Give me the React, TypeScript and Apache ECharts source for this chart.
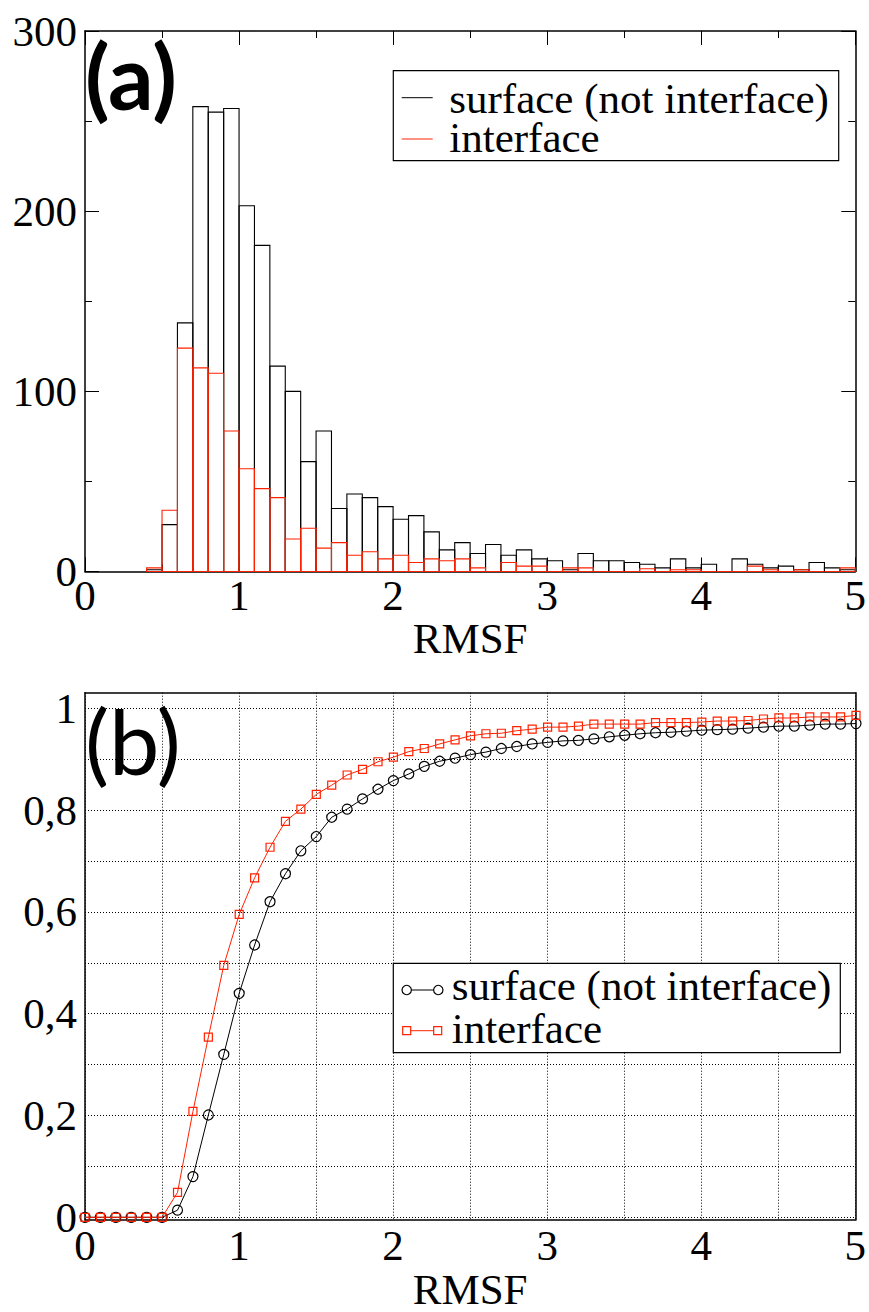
import React, { useEffect, useRef } from "react";
import * as echarts from "echarts";

// ---- data ----
const rmsfEdges = [
  0.4, 0.5, 0.6, 0.7, 0.8, 0.9, 1.0, 1.1, 1.2, 1.3, 1.4, 1.5, 1.6, 1.7, 1.8, 1.9,
  2.0, 2.1, 2.2, 2.3, 2.4, 2.5, 2.6, 2.7, 2.8, 2.9, 3.0, 3.1, 3.2, 3.3, 3.4, 3.5,
  3.6, 3.7, 3.8, 3.9, 4.0, 4.1, 4.2, 4.3, 4.4, 4.5, 4.6, 4.7, 4.8, 4.9, 5.0,
];
const surfaceCounts = [
  1, 26, 138, 258, 255, 257, 203, 181, 114, 100, 61, 78, 35, 43, 41, 36,
  29, 31, 22, 12, 16, 10, 15, 9, 12, 7, 6, 1, 10, 6, 6, 5,
  4, 2, 7, 2, 4, 0, 7, 4, 2, 3, 1, 5, 2, 1,
];
const interfaceCounts = [
  2, 34, 124, 113, 110, 78, 57, 46, 41, 18, 24, 13, 16, 9, 11, 7,
  9, 5, 7, 6, 7, 2, 0, 5, 3, 3, 0, 2, 2, 0, 0, 0,
  1.5, 0, 1, 1, 0, 0, 0, 3, 1, 0, 1, 0, 0, 2,
];

const rmsfPoints = [
  0, 0.1, 0.2, 0.3, 0.4, 0.5, 0.6, 0.7, 0.8, 0.9, 1.0, 1.1, 1.2, 1.3, 1.4, 1.5, 1.6,
  1.7, 1.8, 1.9, 2.0, 2.1, 2.2, 2.3, 2.4, 2.5, 2.6, 2.7, 2.8, 2.9, 3.0, 3.1, 3.2, 3.3,
  3.4, 3.5, 3.6, 3.7, 3.8, 3.9, 4.0, 4.1, 4.2, 4.3, 4.4, 4.5, 4.6, 4.7, 4.8, 4.9, 5.0,
];
const surfaceCdf = [
  0, 0, 0, 0, 0, 0, 0.014, 0.08, 0.201, 0.32, 0.44, 0.535, 0.62, 0.675, 0.72, 0.748, 0.786,
  0.802, 0.822, 0.841, 0.858, 0.871, 0.886, 0.896, 0.902, 0.909, 0.914, 0.921, 0.925, 0.93, 0.933, 0.936, 0.937, 0.94,
  0.944, 0.947, 0.95, 0.952, 0.953, 0.955, 0.957, 0.958, 0.959, 0.961, 0.963, 0.965, 0.965, 0.967, 0.969, 0.969, 0.97,
];
const interfaceCdf = [
  0, 0, 0, 0, 0, 0, 0.049, 0.208, 0.354, 0.495, 0.595, 0.667, 0.727, 0.778, 0.802, 0.831, 0.849,
  0.869, 0.88, 0.895, 0.904, 0.915, 0.921, 0.93, 0.938, 0.946, 0.95, 0.951, 0.956, 0.959, 0.963, 0.963, 0.965, 0.969,
  0.969, 0.969, 0.969, 0.972, 0.972, 0.972, 0.973, 0.975, 0.975, 0.976, 0.979, 0.981, 0.981, 0.983, 0.983, 0.983, 0.986,
];

const seriesNames = ["surface (not interface)", "interface"];
const xLabel = "RMSF";

// ---- styles ----
const FONT = "Liberation Serif";
const LABEL_FONT = "Lato";
const RED = "#ff2200";
const BLACK = "#000000";
const FS = 43;

const histRender = (color: string) => (params: any, api: any) => {
  const x0 = api.value(0);
  const x1 = api.value(1);
  const v = api.value(2);
  const p0 = api.coord([x0, 0]);
  const p1 = api.coord([x1, v]);
  return {
    type: "rect",
    shape: { x: p0[0], y: p1[1], width: p1[0] - p0[0], height: p0[1] - p1[1] },
    style: { fill: "none", stroke: color, lineWidth: 1.1 },
  };
};

const axisLineStyle = { show: true, onZero: false, lineStyle: { color: BLACK, width: 1.5 } };
const dotted = { show: true, lineStyle: { color: BLACK, width: 1, type: [1, 2] as any } };
const labelStyle = { fontSize: FS, color: BLACK, fontFamily: FONT };

export default function App() {
  const ref = useRef<HTMLDivElement>(null);
  useEffect(() => {
    if (!ref.current) return;
    const chart = echarts.init(ref.current, undefined, { renderer: "svg" });

    const histData = (counts: number[]) =>
      counts.map((c, i) => [rmsfEdges[i], rmsfEdges[i + 1], c]);

    const legendText = (text: string, x: number, y: number) => ({
      type: "text", x, y, z: 101,
      style: { text, fontSize: FS, lineHeight: 34, fontFamily: FONT, fill: BLACK, verticalAlign: "middle" },
    });

    const option: any = {
      animation: false,
      backgroundColor: "#ffffff",
      textStyle: { fontFamily: FONT },
      grid: [
        { left: 85, top: 31, width: 771, height: 540.5 },
        { left: 85, top: 692.7, width: 771, height: 539.6 },
        { left: 85, top: 708.3, width: 771, height: 509 },
      ],
      xAxis: [
        {
          gridIndex: 0, type: "value", min: 0, max: 5, interval: 1, position: "bottom",
          axisLine: axisLineStyle,
          axisTick: { show: true, inside: true, length: 14, lineStyle: { color: BLACK, width: 1 } },
          minorTick: { show: true, splitNumber: 2, length: 7, lineStyle: { color: BLACK, width: 1 } },
          axisLabel: { ...labelStyle, margin: 2 },
          splitLine: { show: false },
          name: xLabel, nameLocation: "middle", nameGap: 42,
          nameTextStyle: { ...labelStyle },
        },
        {
          gridIndex: 0, type: "value", min: 0, max: 5, interval: 1, position: "top",
          axisLine: axisLineStyle,
          axisTick: { show: true, inside: true, length: 14, lineStyle: { color: BLACK, width: 1 } },
          minorTick: { show: true, splitNumber: 2, length: 7, lineStyle: { color: BLACK, width: 1 } },
          axisLabel: { show: false },
          splitLine: { show: false },
        },
        {
          gridIndex: 1, type: "value", min: 0, max: 5, interval: 1, position: "bottom",
          axisLine: axisLineStyle,
          axisTick: { show: false },
          minorTick: { show: false, splitNumber: 2 },
          axisLabel: { ...labelStyle, margin: 4 },
          splitLine: dotted,
          minorSplitLine: dotted,
          name: xLabel, nameLocation: "middle", nameGap: 43,
          nameTextStyle: { ...labelStyle },
        },
        {
          gridIndex: 1, type: "value", min: 0, max: 5, position: "top",
          axisLine: axisLineStyle, axisTick: { show: false }, axisLabel: { show: false },
          splitLine: { show: false },
        },
        { gridIndex: 2, type: "value", min: 0, max: 5, show: false, splitLine: { show: false } },
      ],
      yAxis: [
        {
          gridIndex: 0, type: "value", min: 0, max: 300, interval: 100, position: "left",
          axisLine: axisLineStyle,
          axisTick: { show: true, inside: true, length: 14, lineStyle: { color: BLACK, width: 1 } },
          minorTick: { show: true, splitNumber: 2, length: 7, lineStyle: { color: BLACK, width: 1 } },
          axisLabel: { ...labelStyle, margin: 8 },
          splitLine: { show: false },
        },
        {
          gridIndex: 0, type: "value", min: 0, max: 300, interval: 100, position: "right",
          axisLine: axisLineStyle,
          axisTick: { show: true, inside: true, length: 14, lineStyle: { color: BLACK, width: 1 } },
          minorTick: { show: true, splitNumber: 2, length: 7, lineStyle: { color: BLACK, width: 1 } },
          axisLabel: { show: false },
          splitLine: { show: false },
        },
        {
          gridIndex: 1, type: "value", min: -0.03, max: 1.03, position: "left",
          axisLine: axisLineStyle, axisTick: { show: false }, axisLabel: { show: false },
          splitLine: { show: false },
        },
        {
          gridIndex: 1, type: "value", min: -0.03, max: 1.03, position: "right",
          axisLine: axisLineStyle, axisTick: { show: false }, axisLabel: { show: false },
          splitLine: { show: false },
        },
        {
          gridIndex: 2, type: "value", min: 0, max: 1, interval: 0.2, position: "left",
          axisLine: { show: false }, axisTick: { show: false },
          minorTick: { show: false, splitNumber: 2 },
          axisLabel: {
            ...labelStyle, margin: 8,
            formatter: (v: number) => String(Math.round(v * 10) / 10).replace(".", ","),
          },
          splitLine: dotted,
          minorSplitLine: dotted,
        },
      ],
      series: [
        {
          type: "custom", name: seriesNames[0], xAxisIndex: 0, yAxisIndex: 0,
          data: histData(surfaceCounts), renderItem: histRender(BLACK),
          encode: { x: [0, 1], y: 2 }, itemStyle: { color: BLACK }, z: 2,
        },
        {
          type: "custom", name: seriesNames[1], xAxisIndex: 0, yAxisIndex: 0,
          data: histData(interfaceCounts), renderItem: histRender(RED),
          encode: { x: [0, 1], y: 2 }, itemStyle: { color: RED }, z: 3,
        },
        {
          type: "line", name: seriesNames[0], xAxisIndex: 4, yAxisIndex: 4,
          data: rmsfPoints.map((x, i) => [x, surfaceCdf[i]]),
          symbol: "circle", symbolSize: 10, clip: false,
          itemStyle: { color: "rgba(0,0,0,0)", borderColor: BLACK, borderWidth: 1.2 },
          lineStyle: { color: BLACK, width: 1 }, z: 3,
        },
        {
          type: "line", name: seriesNames[1], xAxisIndex: 4, yAxisIndex: 4,
          data: rmsfPoints.map((x, i) => [x, interfaceCdf[i]]),
          symbol: "rect", symbolSize: 8, clip: false,
          itemStyle: { color: "rgba(0,0,0,0)", borderColor: RED, borderWidth: 1.2 },
          lineStyle: { color: RED, width: 1 }, z: 4,
        },
      ],
      graphic: {
        elements: [
          // panel labels
          {
            type: "text", x: 85, y: 75, z: 100,
            style: { text: "(a)", fontSize: 90, lineHeight: 90, fontFamily: LABEL_FONT, fontWeight: "bold", fill: BLACK, verticalAlign: "middle" },
          },
          {
            type: "text", x: 85, y: 740, z: 100,
            style: { text: "(b)", fontSize: 90, lineHeight: 90, fontFamily: LABEL_FONT, fill: BLACK, verticalAlign: "middle" },
          },
          // legend (a)
          {
            type: "rect", z: 100, shape: { x: 393.3, y: 70.7, width: 445.4, height: 90 },
            style: { fill: "#fff", stroke: BLACK, lineWidth: 1.2 },
          },
          { type: "line", z: 101, shape: { x1: 401.7, y1: 97.7, x2: 432.7, y2: 97.7 }, style: { stroke: BLACK, lineWidth: 1 } },
          { type: "line", z: 101, shape: { x1: 401.7, y1: 139, x2: 432.7, y2: 139 }, style: { stroke: RED, lineWidth: 1 } },
          legendText(seriesNames[0], 449.3, 98.8),
          legendText(seriesNames[1], 449.3, 137.2),
          // legend (b)
          {
            type: "rect", z: 100, shape: { x: 393.3, y: 963.3, width: 447, height: 89.4 },
            style: { fill: "#fff", stroke: BLACK, lineWidth: 1.2 },
          },
          { type: "line", z: 101, shape: { x1: 406.7, y1: 990, x2: 438.3, y2: 990 }, style: { stroke: BLACK, lineWidth: 1 } },
          { type: "circle", z: 102, shape: { cx: 406.7, cy: 990, r: 4.7 }, style: { fill: "#fff", stroke: BLACK, lineWidth: 1.2 } },
          { type: "circle", z: 102, shape: { cx: 438.3, cy: 990, r: 4.7 }, style: { fill: "#fff", stroke: BLACK, lineWidth: 1.2 } },
          { type: "line", z: 101, shape: { x1: 406.7, y1: 1030.7, x2: 437.7, y2: 1030.7 }, style: { stroke: RED, lineWidth: 1 } },
          { type: "rect", z: 102, shape: { x: 402.7, y: 1026.7, width: 8, height: 8 }, style: { fill: "#fff", stroke: RED, lineWidth: 1.2 } },
          { type: "rect", z: 102, shape: { x: 433.7, y: 1026.7, width: 8, height: 8 }, style: { fill: "#fff", stroke: RED, lineWidth: 1.2 } },
          legendText(seriesNames[0], 451.7, 985.5),
          legendText(seriesNames[1], 451.7, 1028.8),
        ],
      },
    };

    chart.setOption(option);
    return () => chart.dispose();
  }, []);

  return (
    <div
      ref={ref}
      style={{ position: "absolute", left: 0, top: 0, width: 869, height: 1312, background: "#fff" }}
    />
  );
}
